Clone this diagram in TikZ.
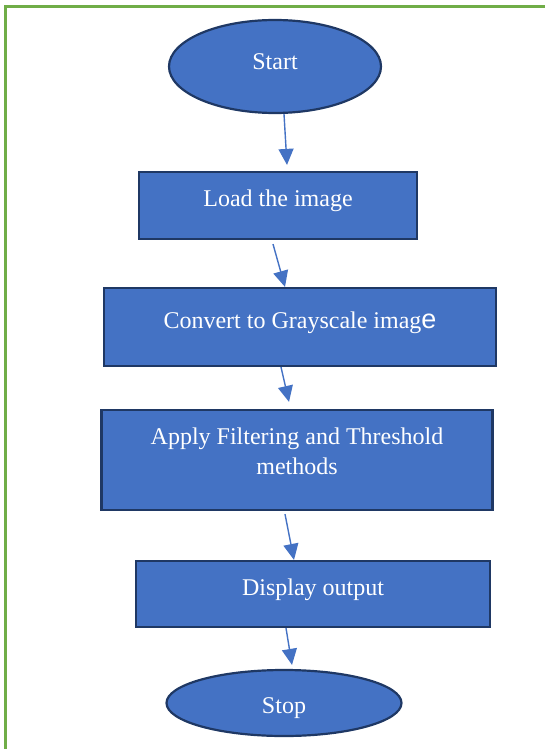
\documentclass[tikz,border=0pt]{standalone}
\usepackage{fontspec}
\setmainfont{Liberation Serif}
\newfontfamily\sansfont{Liberation Sans}
\usetikzlibrary{arrows.meta}
\usetikzlibrary{shapes.geometric}
\definecolor{boxblue}{HTML}{4472C4}
\definecolor{boxline}{HTML}{1F3864}
\definecolor{framegreen}{HTML}{70AD47}

\begin{document}
\begin{tikzpicture}[x=1pt,y=-1pt,
    box/.style={draw=boxline,line width=2.2pt,fill=boxblue,text=white,
        font=\fontsize{24}{30}\selectfont,inner sep=0pt,
        text height=10pt,text depth=8pt},
    term/.style={box,ellipse},
    flow/.style={draw=boxblue,line width=1.4pt,-{Triangle[length=16pt,width=15pt]}}]
    \useasboundingbox (0,0) rectangle (545,749);
    \draw[framegreen,line width=3pt] (5,749) -- (5,7) -- (545,7);

    \node[term,minimum width=212,minimum height=93,
        text height=12pt,text depth=6pt] (start) at (275,66.5) {Start};
    \node[box,minimum width=278,minimum height=67] (load) at (278,205.5) {Load the image};
    \node[box,minimum width=392,minimum height=78] (convert) at (300,327)
        {Convert to Grayscale imag{\sansfont\fontsize{27}{30}\selectfont e}};
    \node[box,minimum width=391,minimum height=100,align=center,
        text height=35pt,text depth=7pt] (apply) at (297,460)
        {Apply Filtering and Threshold\\methods};
    \node[box,minimum width=354,minimum height=66] (display) at (313,594) {Display output};
    \node[term,minimum width=235,minimum height=66,
        text height=21pt,text depth=-1pt] (stop) at (284,703) {Stop};

    \draw[flow] ([xshift=9pt]start.south) -- ([xshift=9pt,yshift=6pt]load.north);
    \draw[flow] ([xshift=-5pt,yshift=-4pt]load.south) -- ([xshift=-15pt]convert.north);
    \draw[flow] ([xshift=-19pt]convert.south) -- ([xshift=-8pt,yshift=7pt]apply.north);
    \draw[flow] ([xshift=-12pt,yshift=-3pt]apply.south) -- ([xshift=-19pt]display.north);
    \draw[flow] ([xshift=-27pt]display.south) -- ([xshift=8pt,yshift=4pt]stop.north);
\end{tikzpicture}
\end{document}
